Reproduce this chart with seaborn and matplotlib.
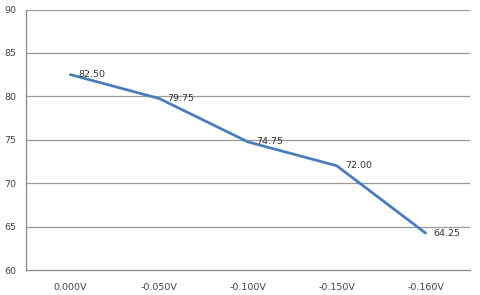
import matplotlib
matplotlib.use("Agg")
import matplotlib.pyplot as plt
import seaborn as sns
import pandas as pd

categories = ["0.000V", "-0.050V", "-0.100V", "-0.150V", "-0.160V"]
values = [82.50, 79.75, 74.75, 72.00, 64.25]
y_ticks = [60, 65, 70, 75, 80, 85, 90]

sns.set_style("white")
plt.rcParams['font.family'] = ['DejaVu Sans']

df = pd.DataFrame({"cat": categories, "val": values})

fig = plt.figure(figsize=(4.8, 2.95), dpi=100)
ax = fig.add_axes([26/480, 1-270/295, (470-26)/480, (270-9.5)/295])

pos = list(range(len(categories)))
sns.lineplot(x=pos, y=values, ax=ax, color="#4a7ebb", linewidth=2.0, zorder=3)

for x, v in zip(pos, values):
    ax.text(x + 0.09, v, f"{v:.2f}", fontsize=6.8, color="#333333",
            va="center", ha="left", zorder=4)

ax.set_xlim(-0.5, len(categories) - 0.5)
ax.set_ylim(60, 90)
ax.set_yticks(y_ticks)
ax.set_yticklabels([str(t) for t in y_ticks], fontsize=6.8, color="#444444")
ax.set_xticks(pos)
ax.set_xticklabels(categories, fontsize=6.8, color="#444444")
ax.set_xticks([p - 0.5 for p in pos] + [len(pos) - 0.5], minor=True)
ax.tick_params(axis="x", which="major", length=0, pad=9)
ax.tick_params(axis="x", which="minor", length=3, color="#999999", width=0.8, direction="out")
ax.tick_params(axis="y", length=3, color="#888888", width=0.8, direction="out", pad=4)

for t in y_ticks[1:]:
    ax.axhline(t, color="#9a9a9a", linewidth=0.9, zorder=1)

for s in ["top", "right"]:
    ax.spines[s].set_visible(False)
ax.spines["left"].set_color("#888888")
ax.spines["left"].set_linewidth(0.9)
ax.spines["bottom"].set_color("#888888")
ax.spines["bottom"].set_linewidth(0.9)
ax.set_xlabel("")
ax.set_ylabel("")

fig.savefig("out.png", dpi=100, facecolor="white")
